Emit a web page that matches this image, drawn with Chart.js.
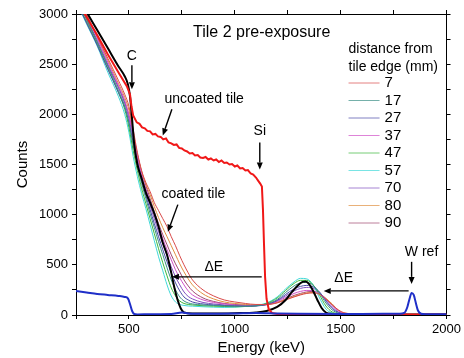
<!DOCTYPE html>
<html>
<head>
<meta charset="utf-8">
<script src="https://cdn.jsdelivr.net/npm/chart.js@4/dist/chart.umd.min.js"></script>
<style>
  body { margin: 0; background: #fff; }
  canvas { display: block; }
</style>
</head>
<body>
<canvas id="spectra" width="464" height="358"></canvas>
<script>
// Energy grid for the coated tile scans (keV)
const coatedEnergy = [260, 300, 350, 400, 450, 480, 500, 520, 540, 560, 580, 600, 620, 640, 660, 680, 700, 720, 740, 760,
  780, 800, 850, 900, 950, 1000, 1050, 1100, 1150, 1200, 1240, 1280, 1310, 1340, 1370, 1400, 1430, 1460, 1490, 1520,
  1600, 1800, 2000];

// counts per distance from tile edge (mm)
const coated7 = [3200, 3000, 2780, 2560, 2340, 2200, 2080, 1850, 1620, 1440, 1320, 1230, 1120, 1040, 960, 880, 780, 690, 590, 500,
  420, 350, 250, 190, 150, 130, 115, 105, 105, 120, 150, 180, 200, 215, 220, 205, 160, 100, 50, 20, 8, 5, 5];
const coated17 = [3120, 2950, 2720, 2480, 2240, 2080, 1910, 1690, 1490, 1310, 1160, 1010, 870, 730, 600, 470, 350, 250, 180, 140,
  120, 110, 100, 95, 90, 88, 88, 92, 110, 155, 225, 290, 320, 325, 295, 220, 120, 50, 18, 9, 6, 5, 5];
const coated27 = [3090, 2910, 2690, 2450, 2220, 2070, 1920, 1720, 1520, 1340, 1190, 1050, 910, 780, 650, 530, 420, 320, 240, 180,
  150, 130, 110, 100, 95, 90, 88, 90, 105, 145, 205, 260, 285, 295, 280, 230, 140, 65, 25, 10, 6, 5, 5];
const coated37 = [3160, 2980, 2760, 2520, 2290, 2140, 1990, 1790, 1580, 1400, 1260, 1130, 1000, 880, 760, 650, 550, 450, 370, 300,
  240, 200, 150, 125, 110, 100, 95, 95, 105, 135, 175, 215, 235, 245, 240, 215, 160, 95, 40, 14, 7, 5, 5];
const coated47 = [3100, 2920, 2700, 2460, 2220, 2050, 1870, 1640, 1440, 1260, 1110, 960, 810, 660, 520, 390, 270, 190, 140, 115,
  105, 100, 92, 88, 85, 82, 85, 92, 115, 170, 245, 315, 345, 345, 300, 200, 90, 30, 12, 8, 6, 5, 5];
const coated57 = [3080, 2900, 2680, 2420, 2180, 2000, 1820, 1580, 1380, 1210, 1060, 900, 740, 580, 440, 300, 190, 130, 105, 95,
  90, 88, 82, 78, 75, 78, 85, 95, 120, 180, 260, 330, 365, 360, 300, 170, 60, 20, 10, 8, 6, 5, 5];
const coated70 = [3140, 2960, 2740, 2500, 2270, 2110, 1960, 1760, 1560, 1380, 1230, 1090, 960, 830, 710, 590, 480, 380, 300, 230,
  185, 160, 125, 110, 100, 95, 92, 92, 105, 140, 190, 240, 265, 275, 265, 225, 150, 80, 30, 12, 7, 5, 5];
const coated80 = [3180, 2990, 2770, 2540, 2310, 2170, 2040, 1820, 1600, 1430, 1300, 1200, 1080, 970, 870, 780, 690, 600, 510, 430,
  360, 300, 210, 160, 130, 115, 105, 100, 105, 125, 155, 185, 205, 220, 225, 210, 165, 110, 45, 18, 8, 5, 5];
const coated90 = [3130, 2940, 2720, 2490, 2270, 2120, 1990, 1800, 1600, 1420, 1290, 1160, 1030, 910, 800, 700, 600, 510, 430, 350,
  290, 240, 170, 135, 115, 105, 98, 95, 102, 125, 160, 195, 215, 230, 235, 215, 165, 105, 45, 16, 7, 5, 5];

// reference coated tile (black)
const refEnergy = [300, 350, 400, 450, 480, 495, 505, 515, 525, 540, 560, 580, 600, 620, 640, 660, 680, 700, 715, 730,
  745, 760, 800, 900, 1000, 1100, 1150, 1200, 1240, 1270, 1300, 1320, 1335, 1350, 1370, 1390, 1410, 1430, 1460, 1500,
  1700, 2000];
const refCounts = [3020, 2840, 2660, 2480, 2380, 2300, 2180, 1950, 1700, 1500, 1360, 1220, 1120, 1010, 880, 720, 600, 420, 270, 150,
  65, 25, 15, 15, 18, 25, 40, 80, 150, 230, 300, 330, 335, 310, 240, 150, 70, 25, 10, 6,
  5, 5];

// uncoated tile (red)
const uncoatedEnergy = [280, 300, 350, 400, 450, 490, 505, 512, 520, 537, 550, 562, 575, 587, 600, 612, 625, 637, 650, 662,
  675, 687, 700, 712, 725, 737, 750, 762, 775, 787, 800, 812, 825, 837, 850, 862, 875, 887, 900, 912,
  925, 937, 950, 962, 975, 987, 1000, 1012, 1025, 1037, 1050, 1062, 1075, 1087, 1100, 1110, 1120, 1128, 1133, 1138,
  1143, 1150, 1160, 1175, 1200, 1500, 1800, 2000];
const uncoatedCounts = [3040, 2970, 2790, 2600, 2420, 2280, 2200, 2080, 1990, 1920, 1905, 1870, 1860, 1835, 1830, 1800, 1805, 1780, 1775, 1750,
  1760, 1720, 1710, 1695, 1700, 1665, 1660, 1640, 1630, 1610, 1615, 1590, 1595, 1570, 1565, 1575, 1550, 1560, 1540, 1550,
  1525, 1540, 1515, 1520, 1500, 1505, 1480, 1490, 1460, 1465, 1440, 1445, 1410, 1400, 1370, 1340, 1310, 1280, 1050, 700,
  380, 160, 60, 20, 10, 8, 6, 5];

// W reference (blue)
const wEnergy = [250, 300, 350, 400, 450, 480, 495, 505, 515, 525, 540, 600, 700, 750, 800, 900, 1000, 1100, 1200, 1300,
  1500, 1700, 1780, 1800, 1815, 1825, 1835, 1845, 1855, 1865, 1880, 1900, 2000];
const wCounts = [240, 225, 210, 200, 190, 180, 165, 110, 40, 10, 5, 8, 10, 25, 12, 12, 15, 20, 15, 12,
  10, 12, 12, 20, 80, 160, 220, 200, 120, 45, 12, 8, 8];

const distances = ['7', '17', '27', '37', '47', '57', '70', '80', '90'];
const coatedSeries = [coated7, coated17, coated27, coated37, coated47, coated57, coated70, coated80, coated90];
const coatedColors = ['#d84a4a', '#3a8f86', '#4a4aa8', '#d050c8', '#3cb83c', '#40d8d8', '#8050c0', '#e09040', '#a04870'];

const xTicksMajor = [500, 1000, 1500, 2000];
const yTicksMajor = [0, 500, 1000, 1500, 2000, 2500, 3000];

function pairs(xs, ys) {
  return xs.map((x, i) => ({ x: x, y: ys[i] }));
}

// annotations in data coordinates
const notes = [
  { text: 'Tile 2 pre-exposure', x: 1127, y: 2810, align: 'center', size: 16 },
  { text: 'C', x: 514, y: 2580, align: 'center', size: 14 },
  { text: 'uncoated tile', x: 668, y: 2150, align: 'left', size: 14 },
  { text: 'Si', x: 1118, y: 1830, align: 'center', size: 14 },
  { text: 'coated tile', x: 654, y: 1200, align: 'left', size: 14 },
  { text: 'ΔE', x: 901, y: 480, align: 'center', size: 14 },
  { text: 'ΔE', x: 1514, y: 370, align: 'center', size: 14 },
  { text: 'W ref', x: 1882, y: 630, align: 'center', size: 14 }
];
const arrows = [
  [514, 2490, 514, 2250],
  [703, 2050, 660, 1790],
  [1118, 1720, 1118, 1450],
  [731, 1100, 684, 830],
  [1127, 380, 703, 380],
  [1821, 240, 1420, 240],
  [1835, 530, 1835, 310]
];

function drawArrow(ctx, x1, y1, x2, y2) {
  const ang = Math.atan2(y2 - y1, x2 - x1);
  const head = 7, half = 3;
  ctx.beginPath();
  ctx.moveTo(x1, y1);
  ctx.lineTo(x2 - head * Math.cos(ang), y2 - head * Math.sin(ang));
  ctx.stroke();
  ctx.beginPath();
  ctx.moveTo(x2, y2);
  ctx.lineTo(x2 - head * Math.cos(ang) + half * Math.sin(ang), y2 - head * Math.sin(ang) - half * Math.cos(ang));
  ctx.lineTo(x2 - head * Math.cos(ang) - half * Math.sin(ang), y2 - head * Math.sin(ang) + half * Math.cos(ang));
  ctx.closePath();
  ctx.fill();
}

const overlay = {
  id: 'overlay',
  afterDatasetsDraw(chart) {
    const { ctx, chartArea, scales: { x, y } } = chart;
    ctx.save();
    ctx.fillStyle = '#000';
    ctx.strokeStyle = '#000';
    ctx.lineWidth = 1.4;
    ctx.textBaseline = 'middle';
    notes.forEach(n => {
      ctx.font = n.size + 'px "Liberation Sans", Arial, sans-serif';
      ctx.textAlign = n.align;
      ctx.fillText(n.text, x.getPixelForValue(n.x), y.getPixelForValue(n.y));
    });
    arrows.forEach(a => {
      drawArrow(ctx, x.getPixelForValue(a[0]), y.getPixelForValue(a[1]), x.getPixelForValue(a[2]), y.getPixelForValue(a[3]));
    });

    // legend box
    const lx = chartArea.right - 98;
    ctx.font = '14px "Liberation Sans", Arial, sans-serif';
    ctx.textAlign = 'left';
    ctx.fillText('distance from', lx, chartArea.top + 35);
    ctx.fillText('tile edge (mm)', lx, chartArea.top + 53);
    ctx.font = '15px "Liberation Sans", Arial, sans-serif';
    distances.forEach((d, i) => {
      const ly = chartArea.top + 69 + i * 17.5;
      ctx.strokeStyle = coatedColors[i];
      ctx.globalAlpha = 0.7;
      ctx.lineWidth = 1;
      ctx.beginPath();
      ctx.moveTo(lx, ly);
      ctx.lineTo(lx + 31, ly);
      ctx.stroke();
      ctx.globalAlpha = 1;
      ctx.fillText(d, lx + 36, ly);
    });
    ctx.restore();
  }
};

const datasets = [
  { label: 'W ref', data: pairs(wEnergy, wCounts), borderColor: '#1f2fc8', borderWidth: 2, cubicInterpolationMode: 'monotone' },
  { label: 'uncoated tile', data: pairs(uncoatedEnergy, uncoatedCounts), borderColor: '#f01818', borderWidth: 2 },
  { label: 'coated tile', data: pairs(refEnergy, refCounts), borderColor: '#000000', borderWidth: 2, cubicInterpolationMode: 'monotone' }
];
coatedSeries.forEach((s, i) => {
  datasets.push({
    label: distances[i] + ' mm',
    data: pairs(coatedEnergy, s),
    borderColor: coatedColors[i],
    borderWidth: 1,
    cubicInterpolationMode: 'monotone'
  });
});
datasets.forEach(d => {
  d.pointRadius = 0;
  d.fill = false;
  d.xAxisID = 'x';
  d.yAxisID = 'y';
});

const axisFont = { family: '"Liberation Sans", Arial, sans-serif', size: 13 };

new Chart(document.getElementById('spectra'), {
  type: 'line',
  data: { datasets },
  plugins: [overlay],
  options: {
    responsive: false,
    animation: false,
    layout: { padding: 0 },
    plugins: { legend: { display: false }, tooltip: { enabled: false } },
    scales: {
      x: {
        type: 'linear', position: 'bottom', min: 250, max: 2000,
        ticks: {
          stepSize: 250, autoSkip: false, maxRotation: 0, color: '#000', font: axisFont, padding: 3,
          callback: v => xTicksMajor.includes(v) ? v : ''
        },
        grid: { drawOnChartArea: false, tickLength: 4, color: '#000' },
        border: { display: true, color: '#000', width: 1 },
        title: { display: true, text: 'Energy (keV)', color: '#000', font: { family: axisFont.family, size: 15 }, padding: { top: 0, bottom: 1 } },
        afterFit: s => { s.height = 43; }
      },
      x2: {
        type: 'linear', position: 'top', min: 250, max: 2000,
        ticks: { display: false, stepSize: 250 },
        grid: { drawOnChartArea: false, tickLength: 4, color: '#000' },
        border: { display: true, color: '#000', width: 1 },
        afterFit: s => { s.height = 14; }
      },
      y: {
        type: 'linear', position: 'left', min: 0, max: 3000,
        ticks: {
          stepSize: 250, autoSkip: false, color: '#000', font: axisFont, padding: 4,
          callback: v => yTicksMajor.includes(v) ? v : ''
        },
        grid: { drawOnChartArea: false, tickLength: 4, color: '#000' },
        border: { display: true, color: '#000', width: 1 },
        title: { display: true, text: 'Counts', color: '#000', font: { family: axisFont.family, size: 15 }, padding: { top: 14, bottom: 0 } },
        afterFit: s => { s.width = 76; }
      },
      y2: {
        type: 'linear', position: 'right', min: 0, max: 3000,
        ticks: { display: false, stepSize: 250 },
        grid: { drawOnChartArea: false, tickLength: 4, color: '#000' },
        border: { display: true, color: '#000', width: 1 },
        afterFit: s => { s.width = 17; }
      }
    }
  }
});
</script>
</body>
</html>
